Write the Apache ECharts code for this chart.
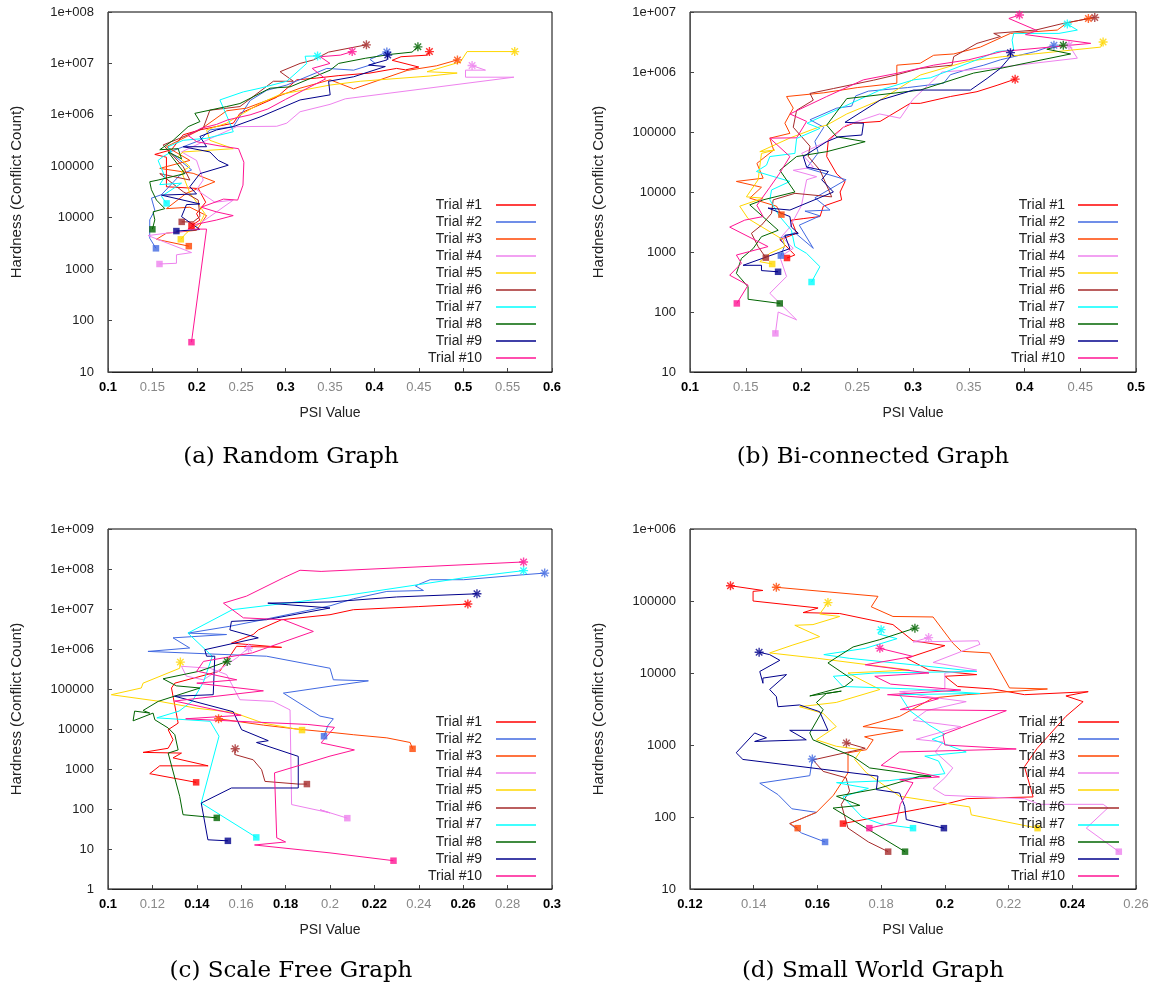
<!DOCTYPE html>
<html><head><meta charset="utf-8">
<script src="https://cdn.jsdelivr.net/npm/echarts@6/dist/echarts.min.js"></script>
<style>html,body{margin:0;padding:0;background:#fff}#c{width:1155px;height:990px}</style>
</head><body><div id="c"></div>
<script>
const trialNames = ['Trial #1','Trial #2','Trial #3','Trial #4','Trial #5','Trial #6','Trial #7','Trial #8','Trial #9','Trial #10'];
const trialColors = ['#ff0000','#4169e1','#ff4500','#ee82ee','#ffd700','#a52a2a','#00ffff','#006400','#00008b','#ff1493'];
const captions = ['(a) Random Graph','(b) Bi-connected Graph','(c) Scale Free Graph','(d) Small World Graph'];
const xAxisTitle = 'PSI Value';
const yAxisTitle = 'Hardness (Conflict Count)';

// tick labels
const xLabelsA = ['0.1','0.15','0.2','0.25','0.3','0.35','0.4','0.45','0.5','0.55','0.6'];
const xLabelsB = ['0.1','0.15','0.2','0.25','0.3','0.35','0.4','0.45','0.5'];
const xLabelsC = ['0.1','0.12','0.14','0.16','0.18','0.2','0.22','0.24','0.26','0.28','0.3'];
const xLabelsD = ['0.12','0.14','0.16','0.18','0.2','0.22','0.24','0.26'];
const yLabelsA = ['10','100','1000','10000','100000','1e+006','1e+007','1e+008'];
const yLabelsB = ['10','100','1000','10000','100000','1e+006','1e+007'];
const yLabelsC = ['1','10','100','1000','10000','100000','1e+006','1e+007','1e+008','1e+009'];
const yLabelsD = ['10','100','1000','10000','100000','1e+006'];

// (a) Random Graph: [PSI, conflicts]
const randomT1 = [[0.194,7000],[0.2035,9000],[0.1997,1.2e4],[0.21,2e4],[0.2016,3.7e4],[0.1658,4e4],[0.1658,1.5e5],[0.1527,1.7e5],[0.1715,2.1e5],[0.1847,4.1e5],[0.2035,5.1e5],[0.2411,6.9e5],[0.2486,1.07e6],[0.26,1.3e6],[0.29,2.2e6],[0.3126,4.8e6],[0.3351,5.2e6],[0.36,5.8e6],[0.395,6.5e6],[0.425,8e6],[0.435,7.5e6],[0.45,8.5e6],[0.42,1.15e7],[0.43,1.35e7],[0.46,1.45e7],[0.462,1.7e7]];
const randomT2 = [[0.154,2540],[0.147,4000],[0.147,9100],[0.1527,1.4e4],[0.1489,2.4e4],[0.1602,2.8e4],[0.1809,6.7e4],[0.1941,8.5e4],[0.1696,1.9e5],[0.2035,3.2e5],[0.2147,5.1e5],[0.2411,5.9e5],[0.26,1.9e6],[0.2787,3e6],[0.3013,3.8e6],[0.3464,8e6],[0.3766,7.4e6],[0.401,1e7],[0.395,1.2e7],[0.414,1.67e7]];
const randomT3 = [[0.191,2800],[0.1546,3800],[0.1658,5000],[0.1997,5700],[0.211,1.1e4],[0.1922,1.6e4],[0.1658,1.5e4],[0.1884,3e4],[0.2204,5e4],[0.1959,7.3e4],[0.1583,9.1e4],[0.1922,1.3e5],[0.1658,2.4e5],[0.2035,5.1e5],[0.2336,1.2e6],[0.2561,1.35e6],[0.2787,1.9e6],[0.3163,3.3e6],[0.3502,4.8e6],[0.3766,3.2e6],[0.4368,7.3e6],[0.47,9e6],[0.4935,1.17e7]];
const randomT4 = [[0.158,1260],[0.1771,1300],[0.1771,1900],[0.1941,2100],[0.1451,4500],[0.1922,5700],[0.2147,1.05e4],[0.2411,2.2e4],[0.2204,2e4],[0.1997,3.5e4],[0.2072,5.4e4],[0.1997,1.3e5],[0.1828,1.9e5],[0.2035,2.8e5],[0.2449,5.9e5],[0.29,6e5],[0.3013,6.9e5],[0.3163,1.15e6],[0.35,1.6e6],[0.3672,2.05e6],[0.5571,5.4e6],[0.5026,5.4e6],[0.5026,7.4e6],[0.5251,7.4e6],[0.51,9.1e6]];
const randomT5 = [[0.182,3800],[0.188,5000],[0.2035,7800],[0.2091,1.2e4],[0.2035,1.65e4],[0.1922,3e4],[0.1828,7.9e4],[0.1922,9.8e4],[0.179,1.55e5],[0.1847,1.9e5],[0.2411,2.2e5],[0.2147,3.2e5],[0.211,5.1e5],[0.2336,6.9e5],[0.2524,1.07e6],[0.2712,1.66e6],[0.2938,2.5e6],[0.3502,3.8e6],[0.3841,4.5e6],[0.4631,5.7e6],[0.4932,6.5e6],[0.4593,6.9e6],[0.4969,1.07e7],[0.5044,1.7e7],[0.558,1.7e7]];
const randomT6 = [[0.183,8300],[0.1959,8300],[0.2035,1.05e4],[0.2016,2.2e4],[0.1847,3.2e4],[0.1583,7.2e4],[0.1922,5.4e4],[0.1847,9.8e4],[0.1621,2.6e5],[0.1809,3.5e5],[0.2072,5.5e5],[0.2147,1.23e6],[0.2486,1.45e6],[0.2862,4.5e6],[0.3088,4.5e6],[0.2938,6.9e6],[0.3163,1e7],[0.3314,1.17e7],[0.3484,1.66e7],[0.391,2.3e7]];
const randomT7 = [[0.166,1.9e4],[0.1602,2.6e4],[0.1828,4.7e4],[0.1583,4.4e4],[0.164,6.3e4],[0.1564,1.3e5],[0.1621,1.55e5],[0.1715,1.9e5],[0.1677,2.4e5],[0.1847,3.2e5],[0.211,3.5e5],[0.2411,4.7e5],[0.2373,6.9e5],[0.226,1.95e6],[0.2524,2.8e6],[0.2712,3.3e6],[0.3013,4.5e6],[0.3238,1e7],[0.322,1.38e7],[0.336,1.4e7]];
const randomT8 = [[0.15,5950],[0.1527,9100],[0.1508,1.3e4],[0.164,1.5e4],[0.1546,2.2e4],[0.1489,3.5e4],[0.147,5e4],[0.1564,5.4e4],[0.1865,7.2e4],[0.1677,1.9e5],[0.1828,1.4e5],[0.179,2.2e5],[0.1583,2.1e5],[0.1734,3.2e5],[0.1903,5.9e5],[0.2035,7.4e5],[0.1978,1.07e6],[0.2336,1.45e6],[0.2486,1.66e6],[0.2825,3.3e6],[0.305,3.5e6],[0.3502,7.4e6],[0.3597,1e7],[0.3898,1.26e7],[0.418,1.5e7],[0.4424,1.66e7],[0.449,2.1e7]];
const randomT9 = [[0.177,5500],[0.2035,5900],[0.1828,1.05e4],[0.1884,1.8e4],[0.2035,1.85e4],[0.1602,2.75e4],[0.1997,2.9e4],[0.1922,4e4],[0.2035,7.2e4],[0.2354,1.05e5],[0.2242,1.3e5],[0.2147,1.9e5],[0.1847,2.4e5],[0.211,2.4e5],[0.2035,3.8e5],[0.2223,5.1e5],[0.2411,5.9e5],[0.2712,9.1e5],[0.3163,1.95e6],[0.3502,2.45e6],[0.3484,4.5e6],[0.3766,5.5e6],[0.4123,8.7e6],[0.3935,9.3e6],[0.4142,1.17e7],[0.415,1.45e7]];
const randomT10 = [[0.194,38],[0.211,6000],[0.19,6000],[0.2,7500],[0.222,9000],[0.241,1.1e4],[0.222,1.3e4],[0.205,1.6e4],[0.23,2.3e4],[0.246,2.2e4],[0.252,4.3e4],[0.253,1.2e5],[0.247,2.2e5],[0.225,2.5e5],[0.2,3e5],[0.19,4e5],[0.205,5.5e5],[0.222,6.5e5],[0.235,8e5],[0.26,1e6],[0.28,1.3e6],[0.3,2e6],[0.32,3e6],[0.345,5e6],[0.33,8e6],[0.35,1e7],[0.339,1.35e7],[0.3616,1.45e7],[0.375,1.7e7]];

// (b) Bi-connected Graph
const biconT1 = [[0.187,794],[0.194,890],[0.1806,1600],[0.1956,2050],[0.191,3400],[0.2015,3600],[0.2166,3900],[0.2196,5800],[0.236,7400],[0.2346,1e4],[0.2391,1.5e4],[0.2316,2e4],[0.2226,3.9e4],[0.2241,7.4e4],[0.2376,1.2e5],[0.2466,1.4e5],[0.2705,1.5e5],[0.2975,3e5],[0.3065,3e5],[0.3335,3.9e5],[0.3574,4.7e5],[0.3754,6e5],[0.3916,7.6e5]];
const biconT2 = [[0.1815,870],[0.185,1300],[0.1806,1700],[0.1941,2100],[0.2106,1150],[0.198,2800],[0.2166,4000],[0.2031,4800],[0.2256,5000],[0.212,8000],[0.24,1.6e4],[0.2046,2.5e4],[0.215,4.5e4],[0.212,7e4],[0.22,1.2e5],[0.2076,1.6e5],[0.2316,2.5e5],[0.245,2.7e5],[0.2486,4e5],[0.26,4.8e5],[0.295,5.5e5],[0.3275,6.5e5],[0.3335,9e5],[0.3485,1.1e6],[0.3635,1.3e6],[0.3785,1.6e6],[0.41,2.2e6],[0.4264,2.8e6]];
const biconT3 = [[0.182,4200],[0.1776,5800],[0.1536,7900],[0.1641,1.2e4],[0.1416,1.5e4],[0.1656,1.7e4],[0.16,3e4],[0.175,5e4],[0.1716,7.9e4],[0.1896,9.5e4],[0.1851,1.4e5],[0.1926,2.5e5],[0.1866,3.9e5],[0.22,4.5e5],[0.25,5.5e5],[0.2855,6.5e5],[0.2855,1.3e6],[0.3065,1.4e6],[0.3185,1.9e6],[0.3365,2e6],[0.3604,2.6e6],[0.3874,4.4e6],[0.4294,5e6],[0.4384,6.6e6],[0.4573,7.8e6]];
const biconT4 = [[0.1766,44],[0.1791,100],[0.1956,74],[0.1716,205],[0.1866,390],[0.1806,830],[0.1926,1150],[0.1821,1800],[0.1896,2600],[0.2,6000],[0.2046,1.6e4],[0.2136,1.8e4],[0.1926,2.3e4],[0.2106,2.6e4],[0.2001,4.4e4],[0.2256,7.4e4],[0.24,1.3e5],[0.27,2e5],[0.2885,1.7e5],[0.3,3.5e5],[0.326,1e6],[0.3695,1.15e6],[0.4474,1.7e6],[0.4399,2.8e6]];
const biconT5 = [[0.1737,631],[0.1626,690],[0.1716,950],[0.1851,1240],[0.1836,1600],[0.1521,3600],[0.1446,5800],[0.1656,7900],[0.1506,8300],[0.1611,1.6e4],[0.1641,4.4e4],[0.1761,5e4],[0.1626,4.7e4],[0.19,8e4],[0.2151,1.2e5],[0.2226,1.3e5],[0.2406,2e5],[0.2705,3.4e5],[0.3065,8.9e5],[0.3485,1.5e6],[0.38,1.8e6],[0.4084,2e6],[0.4684,2.6e6],[0.4705,3.16e6]];
const biconT6 = [[0.168,805],[0.1611,1230],[0.1551,2050],[0.1641,2800],[0.1731,4400],[0.1746,7400],[0.1941,9500],[0.2271,8300],[0.2166,2.3e4],[0.2061,3.9e4],[0.2076,5.8e4],[0.1926,1.2e5],[0.1956,2.3e5],[0.2106,3.4e5],[0.2076,4.4e5],[0.2286,5.3e5],[0.2646,7.3e5],[0.2855,9e5],[0.3065,1.15e6],[0.335,1.3e6],[0.3365,1.8e6],[0.3574,3e6],[0.3784,3.9e6],[0.3724,4.4e6],[0.41,5e6],[0.4354,6.5e6],[0.463,8.1e6]];
const biconT7 = [[0.209,316],[0.2165,570],[0.2045,950],[0.194,1240],[0.191,2300],[0.18,4000],[0.1716,7400],[0.1731,1.08e4],[0.1896,1.5e4],[0.1596,2.2e4],[0.1686,2.8e4],[0.1716,3.9e4],[0.1941,4.4e4],[0.1956,7.8e4],[0.2166,1.15e5],[0.205,1.4e5],[0.235,2.5e5],[0.2705,5e5],[0.3005,7.4e5],[0.3155,8e5],[0.3574,1.6e6],[0.3754,2.2e6],[0.3904,2.3e6],[0.3889,3.4e6],[0.3904,4.4e6],[0.4309,4.4e6],[0.4474,5e6],[0.4384,6.3e6]];
const biconT8 = [[0.1805,139],[0.1521,163],[0.1521,263],[0.1416,440],[0.1461,780],[0.1566,1140],[0.1641,1800],[0.1791,2300],[0.1536,6100],[0.1656,7400],[0.1941,1e4],[0.1806,2.3e4],[0.1956,3.9e4],[0.2226,4.7e4],[0.2571,6.9e4],[0.2316,8.3e4],[0.2226,1.3e5],[0.2406,3.6e5],[0.3065,5e5],[0.3544,9.6e5],[0.3784,1.15e6],[0.4414,2e6],[0.42,2.4e6],[0.4348,2.8e6]];
const biconT9 = [[0.179,468],[0.1641,490],[0.1641,600],[0.1476,600],[0.1896,1140],[0.1851,1900],[0.1971,2050],[0.191,2600],[0.1896,3900],[0.17,5400],[0.1896,5000],[0.2286,1e4],[0.2181,1.6e4],[0.2241,2.2e4],[0.2046,2.6e4],[0.2016,3.9e4],[0.2226,6.9e4],[0.2331,8.3e4],[0.2541,8.9e4],[0.2556,1.4e5],[0.239,1.45e5],[0.2705,3.4e5],[0.3005,5e5],[0.3515,5e5],[0.3664,7.8e5],[0.3784,1.15e6],[0.3874,1.8e6],[0.3874,2.1e6]];
const biconT10 = [[0.142,139],[0.1521,280],[0.1356,410],[0.1461,650],[0.1416,890],[0.17,1230],[0.1356,2600],[0.1491,3400],[0.1656,3900],[0.16,6000],[0.1716,1.2e4],[0.18,2e4],[0.1896,3.9e4],[0.1716,7.9e4],[0.1956,8e4],[0.2046,1.5e5],[0.1896,2e5],[0.2226,3.9e5],[0.2555,7.4e5],[0.2855,9.5e5],[0.3185,1.3e6],[0.35,1.6e6],[0.38,2.2e6],[0.4594,3e6],[0.4009,4.2e6],[0.4114,4.9e6],[0.386,7.8e6],[0.3955,8.9e6]];

// (c) Scale Free Graph
const scaleT1 = [[0.1397,464],[0.1188,764],[0.1233,1200],[0.1451,1200],[0.1293,1900],[0.1331,2500],[0.1158,2600],[0.1271,3300],[0.1293,5400],[0.1271,9600],[0.1316,1.4e4],[0.1286,1.06e5],[0.1301,1.4e5],[0.1504,2.8e5],[0.1579,1.17e6],[0.1782,1.1e6],[0.1556,1.4e6],[0.1654,2.3e6],[0.1677,3e6],[0.1782,5.4e6],[0.2,7.2e6],[0.2105,9.6e6],[0.24,1.15e7],[0.2621,1.33e7]];
const scaleT2 = [[0.1973,6600],[0.199,1.2e4],[0.2015,1.8e4],[0.1955,2.1e4],[0.179,7.9e4],[0.2,1.17e5],[0.2173,1.6e5],[0.2015,1.7e5],[0.2,3.3e5],[0.1714,6.6e5],[0.118,8.7e5],[0.1368,1.06e6],[0.1293,1.9e6],[0.1534,2.3e6],[0.1361,2.5e6],[0.1549,3.7e6],[0.1699,5.4e6],[0.2,1.2e7],[0.2105,1.8e7],[0.2256,2.75e7],[0.2421,2.9e7],[0.2384,3.8e7],[0.2451,5.4e7],[0.2602,5.4e7],[0.2872,7.2e7],[0.2967,7.9e7]];
const scaleT3 = [[0.2372,3200],[0.2361,4600],[0.2256,6000],[0.2105,7200],[0.2,8300],[0.185,1e4],[0.17,1.25e4],[0.1498,1.8e4]];
const scaleT4 = [[0.2078,59],[0.1955,96],[0.2,80],[0.1827,129],[0.182,3e4],[0.1744,4.9e4],[0.1594,5.4e4],[0.1534,2.3e5],[0.1459,3.3e5],[0.1331,3.7e5],[0.1353,2.1e5],[0.1429,1.7e5],[0.15,3e5],[0.158,6e5],[0.1633,1.06e6]];
const scaleT5 = [[0.1874,9400],[0.17,1.4e4],[0.1564,2.6e4],[0.14,3.3e4],[0.1233,4.9e4],[0.1015,7.2e4],[0.115,1.06e5],[0.1158,1.4e5],[0.1323,3.3e5],[0.1326,4.7e5]];
const scaleT6 = [[0.1896,420],[0.1857,420],[0.1707,490],[0.1692,960],[0.1654,1700],[0.1571,2300],[0.1573,3200]];
const scaleT7 = [[0.1668,19.5],[0.142,141],[0.15,6600],[0.146,1.56e4],[0.122,1.9e4],[0.132,2.8e4],[0.138,5e4],[0.143,1.5e5],[0.147,6.6e5],[0.136,2.5e6],[0.156,9.6e6],[0.2,1.9e7],[0.239,4e7],[0.26,6e7],[0.2872,9.1e7]];
const scaleT8 = [[0.149,60],[0.1338,72],[0.1323,207],[0.1271,2500],[0.1316,3000],[0.1301,7200],[0.1271,1.06e4],[0.1211,1.7e4],[0.1203,2.5e4],[0.1113,1.6e4],[0.112,2.8e4],[0.1188,2.5e4],[0.1158,2.9e4],[0.1226,4.9e4],[0.1414,1.06e5],[0.1308,1.2e5],[0.1248,1.8e5],[0.1414,2.8e5],[0.1537,4.9e5]];
const scaleT9 = [[0.154,16],[0.145,17],[0.142,141],[0.1556,335],[0.1857,335],[0.1857,2070],[0.1669,4600],[0.1722,5100],[0.1602,9600],[0.1564,2.7e4],[0.13,6.6e4],[0.1474,7.2e4],[0.1481,6.6e5],[0.1444,6.6e5],[0.1436,9.6e5],[0.1677,1.9e6],[0.1549,3e6],[0.1556,4.9e6],[0.1714,5.4e6],[0.2,1.06e7],[0.172,1.4e7],[0.2,1.5e7],[0.23,2e7],[0.2662,2.4e7]];
const scaleT10 = [[0.2286,5.1],[0.2,8],[0.166,12.6],[0.18,15],[0.176,19],[0.175,800],[0.2,2100],[0.211,3000],[0.196,4500],[0.202,1.1e4],[0.19,1.3e4],[0.165,1.5e4],[0.135,1.8e4],[0.16,2.2e4],[0.13,5e4],[0.17,9e4],[0.14,1.4e5],[0.158,1.7e5],[0.14,2.8e5],[0.143,4.9e5],[0.165,8e5],[0.1925,2.75e6],[0.179,5.4e6],[0.161,6e6],[0.152,1.4e7],[0.1624,2.1e7],[0.179,6e7],[0.1865,9.3e7],[0.196,8.7e7],[0.1955,9.5e7],[0.2872,1.5e8]];

// (d) Small World Graph
const smallT1 = [[0.168,81],[0.1921,129],[0.1994,148],[0.207,180],[0.2277,190],[0.225,500],[0.229,900],[0.238,2500],[0.2434,4000],[0.238,4800],[0.245,5500],[0.225,5000],[0.215,6000],[0.204,6500],[0.2,9000],[0.21,9500],[0.195,1.1e4],[0.188,1.6e4],[0.2,2.4e4],[0.19,2.8e4],[0.1837,4.7e4],[0.167,6.7e4],[0.1555,6.9e4],[0.1602,8e4],[0.1398,1e5],[0.1398,1.36e5],[0.1429,1.4e5],[0.1327,1.63e5]];
const smallT2 = [[0.1624,45],[0.155,60],[0.1513,81],[0.1597,116],[0.152,130],[0.1476,205],[0.1419,295],[0.1576,375],[0.1584,640]];
const smallT3 = [[0.1538,70],[0.1513,81],[0.1597,116],[0.165,200],[0.1696,410],[0.1696,780],[0.1754,860],[0.1775,1180],[0.1748,1300],[0.1869,1600],[0.1743,1800],[0.1858,2500],[0.1963,4500],[0.2067,5000],[0.2322,6000],[0.2203,6200],[0.2141,1.9e4],[0.2052,2e4],[0.2025,2.6e4],[0.1963,6e4],[0.1837,6.1e4],[0.1769,8.3e4],[0.179,1.16e5],[0.1471,1.55e5]];
const smallT4 = [[0.2546,33],[0.2444,70],[0.2512,134],[0.2497,150],[0.2297,150],[0.225,180],[0.2,200],[0.1963,250],[0.2,350],[0.2025,480],[0.197,800],[0.1994,1100],[0.191,1200],[0.205,1800],[0.19,2200],[0.1942,3000],[0.2067,4000],[0.196,4600],[0.1858,5500],[0.2,6000],[0.2,1e4],[0.21,1.1e4],[0.1963,1.4e4],[0.211,2.5e4],[0.2105,2.8e4],[0.19,2.7e4],[0.1949,3.1e4]];
const smallT5 = [[0.2291,70],[0.2083,107],[0.2078,138],[0.1858,194],[0.1754,410],[0.1717,630],[0.1738,860],[0.1659,960],[0.1597,1180],[0.1659,1800],[0.1618,2750],[0.1544,3400],[0.1659,3900],[0.1796,5900],[0.1696,1e4],[0.1889,1.1e4],[0.16,1.6e4],[0.145,1.9e4],[0.1523,2.45e4],[0.1607,3.2e4],[0.1529,4.6e4],[0.1586,4.7e4],[0.167,6.1e4],[0.1607,6.6e4],[0.1633,9.5e4]];
const smallT6 = [[0.1822,33],[0.176,45],[0.1696,70],[0.1675,150],[0.1701,230],[0.169,350],[0.1618,430],[0.1586,620],[0.175,900],[0.1691,1070]];
const smallT7 = [[0.19,70],[0.18,80],[0.174,100],[0.168,190],[0.176,250],[0.166,300],[0.1826,320],[0.2,400],[0.198,600],[0.1937,700],[0.2067,800],[0.196,1200],[0.2,1400],[0.195,1900],[0.189,3000],[0.1858,5000],[0.211,5200],[0.19,6000],[0.168,6500],[0.165,9000],[0.178,1e4],[0.21,1.05e4],[0.19,1.3e4],[0.17,1.6e4],[0.162,1.8e4],[0.175,2.2e4],[0.185,3e4],[0.179,3.5e4],[0.18,4e4]];
const smallT8 = [[0.1875,33],[0.1649,133],[0.1733,145],[0.166,194],[0.1785,245],[0.1921,367],[0.1957,367],[0.1764,480],[0.1712,690],[0.1586,1180],[0.1576,1470],[0.1618,3100],[0.1597,3900],[0.1628,5200],[0.1675,5600],[0.1576,4800],[0.1686,6500],[0.1712,8000],[0.1633,1.38e4],[0.1712,2.3e4],[0.1795,2.9e4],[0.1906,4.2e4]];
const smallT9 = [[0.1997,70],[0.1879,92],[0.1874,140],[0.1858,215],[0.1785,240],[0.179,370],[0.1366,630],[0.1345,780],[0.1403,1470],[0.144,1260],[0.1403,1120],[0.1565,1180],[0.1513,1600],[0.1633,1600],[0.1607,2900],[0.1544,3600],[0.1476,3400],[0.1471,4700],[0.145,5900],[0.1503,9500],[0.1429,8500],[0.1429,7200],[0.1419,1.05e4],[0.1482,1.5e4],[0.145,1.8e4],[0.1417,1.94e4]];
const smallT10 = [[0.1763,70],[0.1848,85],[0.186,150],[0.19,300],[0.1858,330],[0.1983,360],[0.188,450],[0.18,520],[0.1858,800],[0.2224,880],[0.2,1000],[0.1994,1400],[0.2193,3000],[0.186,3100],[0.198,4400],[0.182,5000],[0.205,5800],[0.183,7000],[0.178,9000],[0.195,1e4],[0.175,1.3e4],[0.19,1.7e4],[0.1796,2.2e4]];

const randomTrials = [randomT1,randomT2,randomT3,randomT4,randomT5,randomT6,randomT7,randomT8,randomT9,randomT10];
const biconTrials = [biconT1,biconT2,biconT3,biconT4,biconT5,biconT6,biconT7,biconT8,biconT9,biconT10];
const scaleTrials = [scaleT1,scaleT2,scaleT3,scaleT4,scaleT5,scaleT6,scaleT7,scaleT8,scaleT9,scaleT10];
const smallTrials = [smallT1,smallT2,smallT3,smallT4,smallT5,smallT6,smallT7,smallT8,smallT9,smallT10];

const FONT = '"Liberation Sans", Arial, sans-serif';
const STAR = 'path://M0,-5L0,5M-5,0L5,0M-3.6,-3.6L3.6,3.6M-3.6,3.6L3.6,-3.6';

const panels = [
  {trials: randomTrials, grid: {left:108, top:12, width:444, height:360}, xmin:0.1, xmax:0.6, xint:0.05, xl:xLabelsA, ymin:10, ymax:1e8, yl:yLabelsA, yexp0:1,
   leg:{tx:482, lx1:496, lx2:536, y0:205, dy:17}, cap:{x:291, y:457}},
  {trials: biconTrials, grid: {left:690, top:12, width:446, height:360}, xmin:0.1, xmax:0.5, xint:0.05, xl:xLabelsB, ymin:10, ymax:1e7, yl:yLabelsB, yexp0:1,
   leg:{tx:1065, lx1:1078, lx2:1118, y0:205, dy:17}, cap:{x:873, y:457}},
  {trials: scaleTrials, grid: {left:108, top:529, width:444, height:360}, xmin:0.1, xmax:0.3, xint:0.02, xl:xLabelsC, ymin:1, ymax:1e9, yl:yLabelsC, yexp0:0,
   leg:{tx:482, lx1:496, lx2:536, y0:722, dy:17.1}, cap:{x:291, y:971}},
  {trials: smallTrials, grid: {left:690, top:529, width:446, height:360}, xmin:0.12, xmax:0.26, xint:0.02, xl:xLabelsD, ymin:10, ymax:1e6, yl:yLabelsD, yexp0:1,
   leg:{tx:1065, lx1:1078, lx2:1119, y0:722, dy:17.1}, cap:{x:873, y:971}}
];

const grids = [], xAxes = [], yAxes = [], series = [], graphics = [];
panels.forEach((p, pi) => {
  grids.push(Object.assign({show:true, borderColor:'#000', borderWidth:1, containLabel:false}, p.grid));
  xAxes.push({
    type:'value', gridIndex:pi, min:p.xmin, max:p.xmax, interval:p.xint,
    name:xAxisTitle, nameLocation:'middle', nameGap:34,
    nameTextStyle:{fontSize:14, color:'#222', fontFamily:FONT},
    axisLine:{show:true, onZero:false, lineStyle:{color:'#222', width:1}},
    axisTick:{show:true, inside:true, length:4, lineStyle:{color:'#444'}},
    splitLine:{show:false},
    axisLabel:{margin:9, fontFamily:FONT, fontSize:13,
      formatter:(v) => { const i = Math.round((v - p.xmin) / p.xint); const s = p.xl[i]; return (i % 2 === 0 ? '{b|' : '{g|') + s + '}'; },
      rich:{b:{color:'#000', fontWeight:'bold', fontSize:13, fontFamily:FONT}, g:{color:'#888', fontSize:13, fontFamily:FONT}}}
  });
  yAxes.push({
    type:'log', logBase:10, gridIndex:pi, min:p.ymin, max:p.ymax, splitNumber:10,
    name:yAxisTitle, nameLocation:'middle', nameGap:84,
    nameTextStyle:{fontSize:15, color:'#222', fontFamily:FONT},
    axisLine:{show:true, onZero:false, lineStyle:{color:'#555', width:1}},
    axisTick:{show:true, inside:true, length:4, lineStyle:{color:'#444'}},
    splitLine:{show:false}, minorTick:{show:false},
    axisLabel:{margin:14, fontFamily:FONT, fontSize:13, color:'#222',
      formatter:(v) => p.yl[Math.round(Math.log10(v)) - p.yexp0]}
  });
  p.trials.forEach((d, ti) => {
    const c = trialColors[ti];
    series.push({type:'line', name:trialNames[ti], xAxisIndex:pi, yAxisIndex:pi, data:d,
      showSymbol:false, symbol:'none', lineStyle:{width:1, color:c}, itemStyle:{color:c},
      animation:false, silent:true, z:2 + ti*0.01});
  });
  p.trials.forEach((d, ti) => {
    const c = trialColors[ti];
    series.push({type:'scatter', xAxisIndex:pi, yAxisIndex:pi, animation:false, silent:true, z:4,
      data:[
        {value:d[0], symbol:'rect', symbolSize:6.5, itemStyle:{color:c}},
        {value:d[d.length-1], symbol:STAR, symbolSize:9, itemStyle:{color:'rgba(0,0,0,0)', borderColor:c, borderWidth:1.4}}
      ]});
  });
  trialNames.forEach((n, ti) => {
    const y = p.leg.y0 + ti * p.leg.dy;
    graphics.push({type:'text', x:p.leg.tx, y:y, z:100,
      style:{text:n, align:'right', verticalAlign:'middle', font:'14px ' + FONT, fill:'#222'}});
    graphics.push({type:'line', z:100, shape:{x1:p.leg.lx1, y1:Math.round(y), x2:p.leg.lx2, y2:Math.round(y)},
      style:{stroke:trialColors[ti], lineWidth:1.6}});
  });
  graphics.push({type:'text', x:p.cap.x, y:p.cap.y, z:100,
    style:{text:captions[pi], align:'center', verticalAlign:'middle', font:'23px "DejaVu Serif", serif', fill:'#000'}});
});

const chart = echarts.init(document.getElementById('c'), null, {renderer:'canvas'});
chart.setOption({
  backgroundColor:'#fff', animation:false,
  textStyle:{fontFamily:FONT},
  grid:grids, xAxis:xAxes, yAxis:yAxes, series:series, graphic:graphics
});
</script></body></html>
